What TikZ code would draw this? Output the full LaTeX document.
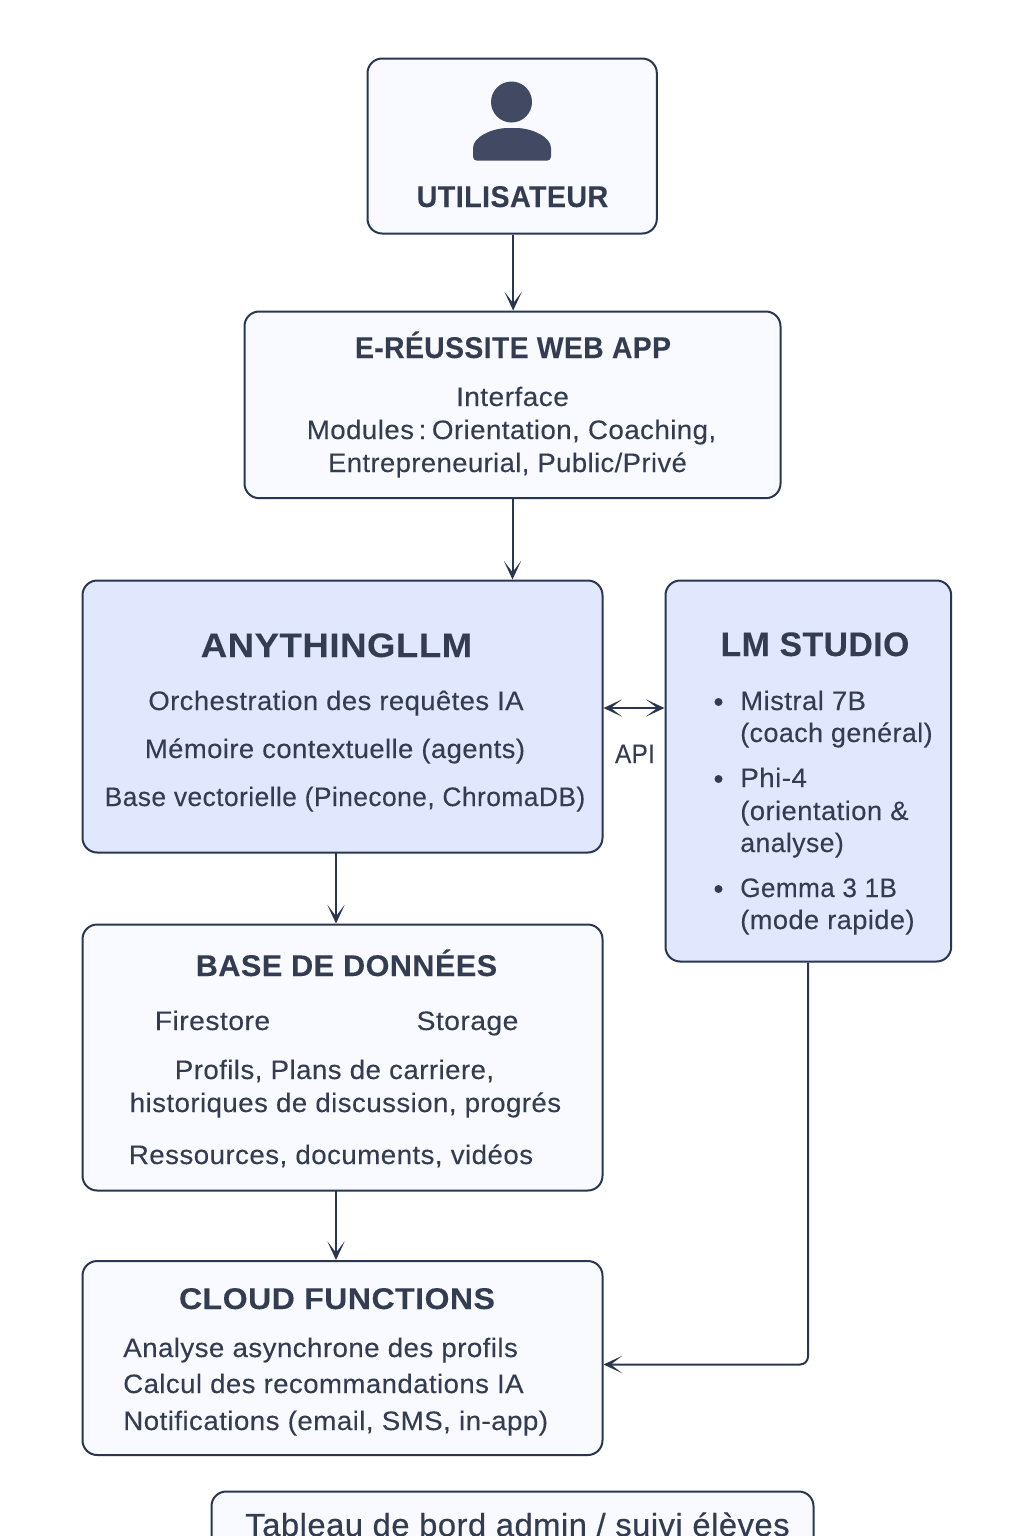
\documentclass[tikz,border=0pt]{standalone}
\usepackage{fontspec}
\setmainfont{Liberation Sans}[LetterSpace=1.5,FakeBold=0.15]
\newfontfamily\medfont{Liberation Sans}[LetterSpace=1.5,FakeBold=0.5]
\usetikzlibrary{arrows.meta}
\definecolor{ink}{HTML}{2A3550}
\definecolor{txt}{HTML}{343C52}
\definecolor{pale}{HTML}{F9FAFF}
\definecolor{blue}{HTML}{E1E7FD}
\definecolor{icon}{HTML}{414A62}
\newcommand{\sx}[2]{\scalebox{#1}[1]{#2}}
\tikzset{x=0.75pt,y=-0.75pt,
 boxa/.style={draw=ink,line width=1.5pt,rounded corners=11pt,fill=pale,anchor=north west,inner sep=0pt},
 boxb/.style={boxa,fill=blue},
 lab/.style={text=txt,font=\fontsize{20}{20}\selectfont,inner sep=0pt,anchor=base},
 labl/.style={lab,anchor=base west},
 ttl/.style={text=txt,font=\fontsize{22.5}{22.5}\selectfont\bfseries,inner sep=0pt,anchor=base},
 bigttl/.style={ttl,font=\fontsize{25.5}{25.5}\selectfont\bfseries},
 conn/.style={draw=ink,fill=ink,line width=1.5pt,-{Stealth[length=14pt,width=13pt,inset=8.5pt]}},
 conn2/.style={draw=ink,line width=1.5pt,{Stealth[length=14pt,width=13pt,inset=8.5pt]}-{Stealth[length=14pt,width=13pt,inset=8.5pt]}}}
\begin{document}
\begin{tikzpicture}
\useasboundingbox (0,0) rectangle (1024,1536);
\fill[white] (0,0) rectangle (1024,1536);
\clip (0,0) rectangle (1024,1536);
% boxes
\node[boxa,minimum width=217pt,minimum height=131.25pt] (user) at (366.5,57.5) {};
\node[boxa,minimum width=402pt,minimum height=140pt] (web) at (243.5,310.5) {};
\node[boxb,minimum width=390pt,minimum height=204pt] (any) at (81.5,579.5) {};
\node[boxb,minimum width=214.25pt,minimum height=285.75pt] (lm) at (664.5,579.5) {};
\node[boxa,minimum width=390pt,minimum height=199.5pt] (db) at (81.5,923.5) {};
\node[boxa,minimum width=390pt,minimum height=145.5pt] (cf) at (81.5,1260) {};
\node[boxa,minimum width=451.5pt,minimum height=90pt] (dash) at (210.5,1490.5) {};
% icon
\fill[icon] (511.5,102) circle (20.5);
\fill[icon,rounded corners=3pt] (473,160.7) -- (473,152) .. controls (473,137) and (492,128) .. (512,128) .. controls (532,128) and (551,137) .. (551,152) -- (551,160.7) -- cycle;
% user
\node[ttl] (t1) at (512.5,207) {\sx{.955}{UTILISATEUR}};
% web
\node[ttl] (t2) at (513,358) {\sx{.943}{E-RÉUSSITE WEB APP}};
\node[lab] (w1) at (512.5,406) {\sx{1.056}{Interface}};
\node[lab] (w2) at (511.5,439) {\sx{1.04}{Modules\,:\hspace{0.2em}Orientation, Coaching,}};
\node[lab] (w3) at (507.5,472) {\sx{1.029}{Entrepreneurial, Public/Privé}};
% any
\node[bigttl] (t3) at (336.5,657) {\sx{1.075}{ANYTHINGLLM}};
\node[lab] (a1) at (336,710) {\sx{1.03}{Orchestration des requêtes IA}};
\node[lab] (a2) at (335,758) {\sx{1.03}{Mémoire contextuelle (agents)}};
\node[lab] (a3) at (345,806) {\sx{.992}{Base vectorielle (Pinecone, ChromaDB)}};
% lm
\node[bigttl] (t4) at (815,656) {\sx{.99}{LM STUDIO}};
\fill[txt] (718.5,702) circle (4) (718.5,779) circle (4) (718.5,889) circle (4);
\node[labl] (l1) at (740,710) {\sx{1.033}{Mistral 7B}};
\node[labl] (l2) at (740,742) {\sx{1.01}{(coach genéral)}};
\node[labl] (l3) at (740,787) {\sx{1.045}{Phi-4}};
\node[labl] (l4) at (740,820) {\sx{1.03}{(orientation \&}};
\node[labl] (l5) at (740,852) {analyse)};
\node[labl] (l6) at (740,897) {\sx{.98}{Gemma 3 1B}};
\node[labl] (l7) at (740,929) {\sx{1.023}{(mode rapide)}};
\node[lab] (api) at (635,763) {\sx{.91}{API}};
% db
\node[ttl] (t5) at (346.5,976) {\sx{1.02}{BASE DE DONNÉES}};
\node[lab] (d1) at (212.5,1030) {\sx{1.065}{Firestore}};
\node[lab] (d2) at (467.5,1030) {\sx{1.063}{Storage}};
\node[lab] (d3) at (334.5,1079) {\sx{1.04}{Profils, Plans de carriere,}};
\node[lab] (d4) at (345.5,1112) {\sx{1.039}{historiques de discussion, progrés}};
\node[lab] (d5) at (331,1164) {\sx{1.041}{Ressources, documents, vidéos}};
% cf
\node[ttl] (t6) at (337,1309) {\sx{1.068}{CLOUD FUNCTIONS}};
\node[labl] (c1) at (123,1357) {\sx{1.04}{Analyse asynchrone des profils}};
\node[labl] (c2) at (123,1393) {\sx{1.036}{Calcul des recommandations IA}};
\node[labl] (c3) at (123,1430) {\sx{1.042}{Notifications (email, SMS, in-app)}};
% dash
\node[lab,font=\fontsize{24}{24}\selectfont\medfont] (t7) at (517.5,1536) {\sx{1.024}{Tableau de bord admin / suivi élèves}};
% connectors
\draw[conn] ([xshift=0.75pt]user.south) -- ([xshift=0.75pt]user.south|-web.north);
\draw[conn] (web.south) -- (web.south|-any.north);
\draw[conn2] (any.east|-0,708) -- (lm.west|-0,708);
\draw[conn] (336,852) -- (336,923.5);
\draw[conn] (336,1189.5) -- (336,1260);
\draw[conn,fill=none,rounded corners=6pt] (lm.south-|808,0) -- (808,1364.5) -- (cf.east|-0,1364.5);
\end{tikzpicture}
\end{document}
